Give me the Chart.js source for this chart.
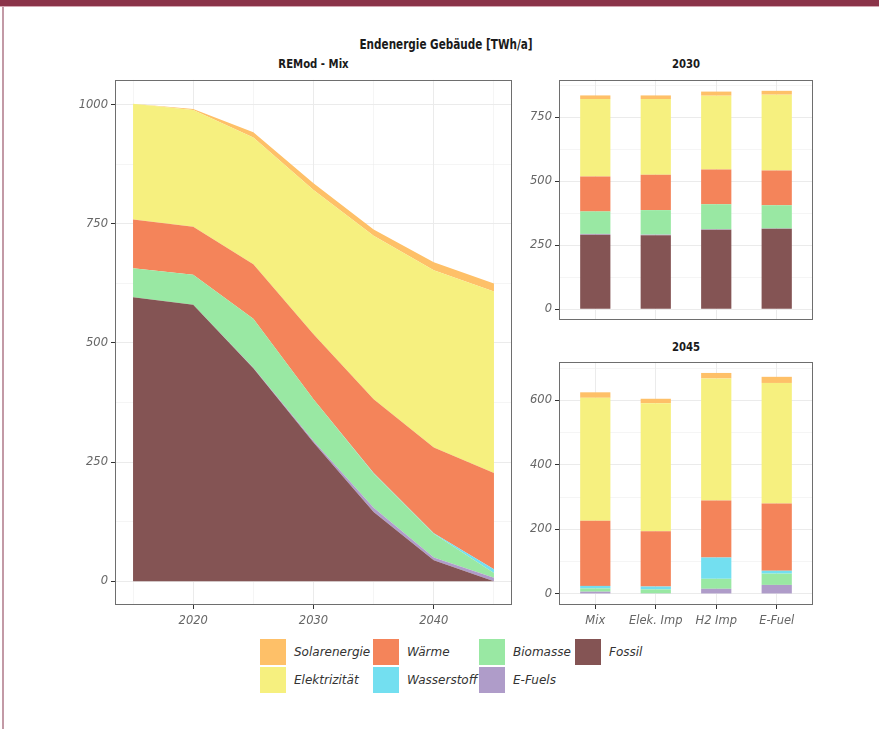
<!DOCTYPE html>
<html lang="de">
<head>
<meta charset="UTF-8">
<title>Endenergie Gebäude [TWh/a]</title>
<script src="https://cdn.jsdelivr.net/npm/chart.js"></script>
<style>
  body { margin: 0; width: 879px; height: 729px; background: #fff; position: relative; overflow: hidden; }
  .balken-oben { position: absolute; left: 0; top: 0; width: 879px; height: 6px; background: #8b3449; border-bottom: 1px solid #d4a7b2; }
  .linie-links { position: absolute; left: 2px; top: 7px; width: 2px; height: 722px; background: #c39aa6; }
  .titel, .sub { position: absolute; font-family: "DejaVu Sans Condensed", "Liberation Sans Narrow", "Roboto Condensed", Roboto, sans-serif; font-weight: bold; color: #1a1a1a; text-align: center; white-space: nowrap; transform-origin: 50% 50%; }
  .titel { left: 246px; width: 400px; top: 36px; font-size: 14px; line-height: 16px; transform: scaleX(0.83); }
  .sub { font-size: 12.5px; line-height: 15px; transform: scaleX(0.9); }
  canvas { position: absolute; }
  .legende { position: absolute; font-family: "DejaVu Sans", sans-serif; font-style: italic; font-size: 12px; color: #333; }
  .eintrag { position: absolute; height: 26px; line-height: 26px; white-space: nowrap; }
  .eintrag span.feld { position: absolute; left: 0; top: 0; width: 26px; height: 26px; }
  .eintrag span.text { position: absolute; left: 34px; top: 0; }
</style>
</head>
<body>
<div class="balken-oben"></div>
<div class="linie-links"></div>

<div class="titel">Endenergie Gebäude [TWh/a]</div>
<div class="sub" style="left:115px; width:397px; top:56px;">REMod - Mix</div>
<div class="sub" style="left:559px; width:254px; top:56px;">2030</div>
<div class="sub" style="left:559px; width:254px; top:339px;">2045</div>

<canvas id="chartVerlauf" width="460" height="565" style="left:60px; top:70px;"></canvas>
<canvas id="chart2030" width="300" height="260" style="left:520px; top:70px;"></canvas>
<canvas id="chart2045" width="300" height="283" style="left:520px; top:352px;"></canvas>

<div class="legende" id="legende"></div>

<script>
// Jahre im Verlauf (REMod - Mix)
const jahre = [2015, 2020, 2025, 2030, 2035, 2040, 2045];
const fossil = [596, 580, 447, 291, 145, 44, 0];
const eFuels = [0, 0, 1, 3, 9, 5.5, 7];
const biomasse = [61, 63, 103, 88, 72, 50, 10];
const wasserstoff = [0, 0, 0, 0, 1, 1, 8];
const waerme = [102, 101, 114, 136, 155, 180, 202];
const elektrizitaet = [243, 245, 266, 303, 343, 372, 381];
const solarenergie = [0, 2, 11, 14, 13, 17, 17];

// Varianten für die Balken
const varianten = ['Mix', 'Elek. Imp', 'H2 Imp', 'E-Fuel'];

// 2030
const fossil2030 = [291, 289, 310, 314];
const eFuels2030 = [3, 2, 2, 1];
const biomasse2030 = [88, 96, 98, 91];
const wasserstoff2030 = [0, 0, 0, 0];
const waerme2030 = [136, 138, 136, 136];
const elektrizitaet2030 = [303, 296, 288, 296];
const solarenergie2030 = [14, 14, 16, 15];

// 2045
const fossil2045 = [0, 0, 0, 0];
const eFuels2045 = [7, 2, 16, 28];
const biomasse2045 = [10, 12, 31, 35];
const wasserstoff2045 = [8, 9, 66, 9];
const waerme2045 = [202, 171, 177, 208];
const elektrizitaet2045 = [381, 397, 378, 374];
const solarenergie2045 = [17, 14, 17, 19];

// Energieträger von unten nach oben gestapelt
const traeger = ['Fossil', 'E-Fuels', 'Biomasse', 'Wasserstoff', 'Wärme', 'Elektrizität', 'Solarenergie'];
const farben = {
  'Solarenergie': '#fec068',
  'Elektrizität': '#f6f07f',
  'Wärme': '#f4845a',
  'Wasserstoff': '#73dff0',
  'Biomasse': '#99e8a3',
  'E-Fuels': '#af9cc9',
  'Fossil': '#845454'
};

const verlauf = [fossil, eFuels, biomasse, wasserstoff, waerme, elektrizitaet, solarenergie];
const werte2030 = [fossil2030, eFuels2030, biomasse2030, wasserstoff2030, waerme2030, elektrizitaet2030, solarenergie2030];
const werte2045 = [fossil2045, eFuels2045, biomasse2045, wasserstoff2045, waerme2045, elektrizitaet2045, solarenergie2045];

const tickFont = { family: 'DejaVu Sans', style: 'italic', size: 11.5 };
const tickFarbe = '#666';
const gitter = '#ebebeb';

// Rahmen um die Zeichenfläche (wie theme_bw)
const rahmen = {
  id: 'rahmen',
  afterDraw(chart) {
    const { ctx, chartArea: a } = chart;
    ctx.save();
    ctx.strokeStyle = '#6e6e6e';
    ctx.lineWidth = 1;
    const l = Math.round(a.left) + 0.5, t = Math.round(a.top) + 0.5;
    ctx.strokeRect(l, t, Math.round(a.right) - Math.round(a.left) - 1, Math.round(a.bottom) - Math.round(a.top) - 1);
    ctx.restore();
  }
};

// Summen für die Achsengrenzen (5 % Rand wie ggplot)
function grenzen(reihen) {
  const n = reihen[0].length;
  let max = 0;
  for (let i = 0; i < n; i++) {
    let s = 0;
    reihen.forEach(r => s += r[i]);
    max = Math.max(max, s);
  }
  return { min: -max * 0.05, max: max * 1.05 };
}

function yAchse(reihen, schritt, haupt, breite) {
  const g = grenzen(reihen);
  return {
    stacked: true,
    min: g.min,
    max: g.max,
    afterBuildTicks: axis => {
      const t = [];
      for (let v = 0; v <= g.max; v += schritt) t.push({ value: v });
      axis.ticks = t;
    },
    afterFit: scale => { scale.width = breite; },
    border: { display: false },
    grid: {
      color: gitter,
      lineWidth: c => (c.tick && c.tick.value % haupt === 0) ? 1 : 0.5,
      tickColor: c => (c.tick && c.tick.value % haupt === 0) ? '#333' : 'rgba(0,0,0,0)',
      tickLength: 4
    },
    ticks: {
      font: tickFont,
      color: tickFarbe,
      padding: 3,
      callback: v => (v % haupt === 0 ? v : '')
    }
  };
}

// Verlauf als gestapelte Fläche
new Chart(document.getElementById('chartVerlauf'), {
  type: 'line',
  data: {
    datasets: traeger.map((name, k) => ({
      label: name,
      data: jahre.map((j, i) => ({ x: j, y: verlauf[k][i] })),
      backgroundColor: farben[name],
      borderWidth: 0,
      pointRadius: 0,
      fill: k === 0 ? 'origin' : '-1'
    }))
  },
  options: {
    responsive: false,
    animation: false,
    layout: { padding: { top: 8, right: 8, bottom: 0, left: 0 } },
    plugins: { legend: { display: false }, tooltip: { enabled: false } },
    scales: {
      x: {
        type: 'linear',
        min: jahre[0] - 1.5,
        max: jahre[jahre.length - 1] + 1.5,
        afterBuildTicks: axis => { axis.ticks = jahre.map(j => ({ value: j })); },
        afterFit: scale => { scale.height = 30; },
        border: { display: false },
        grid: {
          color: gitter,
          lineWidth: c => (c.tick && c.tick.value % 10 === 0) ? 1 : 0.5,
          tickColor: c => (c.tick && c.tick.value % 10 === 0) ? '#333' : 'rgba(0,0,0,0)',
          tickLength: 4
        },
        ticks: {
          font: tickFont,
          color: tickFarbe,
          padding: 5,
          maxRotation: 0,
          callback: v => (v % 10 === 0 ? String(v) : '')
        }
      },
      y: yAchse(verlauf, 125, 250, 55)
    }
  },
  plugins: [rahmen]
});

function balken(id, reihen, schritt, haupt, oben, xHoehe, mitLabels) {
  new Chart(document.getElementById(id), {
    type: 'bar',
    data: {
      datasets: traeger.map((name, k) => ({
        label: name,
        data: varianten.map((v, i) => ({ x: i, y: reihen[k][i] })),
        backgroundColor: farben[name],
        borderWidth: 0,
        categoryPercentage: 1,
        barPercentage: 0.5
      }))
    },
    options: {
      responsive: false,
      animation: false,
      layout: { padding: { top: oben, right: 7, bottom: 0, left: 0 } },
      plugins: { legend: { display: false }, tooltip: { enabled: false } },
      scales: {
        x: {
          type: 'linear',
          stacked: true,
          offset: false,
          min: -0.6,
          max: varianten.length - 0.4,
          afterBuildTicks: axis => { axis.ticks = varianten.map((v, i) => ({ value: i })); },
          afterFit: scale => { scale.height = xHoehe; },
          border: { display: false },
          grid: {
            offset: false,
            color: gitter,
            lineWidth: 1,
            tickColor: '#333',
            tickLength: 4,
            drawTicks: mitLabels
          },
          ticks: {
            display: mitLabels,
            font: tickFont,
            color: tickFarbe,
            padding: 5,
            maxRotation: 0,
            autoSkip: false,
            callback: v => varianten[v]
          }
        },
        y: yAchse(reihen, schritt, haupt, 39)
      }
    },
    plugins: [rahmen]
  });
}

balken('chart2030', werte2030, 125, 250, 7, 7, false);
balken('chart2045', werte2045, 100, 200, 9, 30, true);

// Legende (spaltenweise wie im Original)
const legendeReihenfolge = [
  ['Solarenergie', 260, 639], ['Elektrizität', 260, 667],
  ['Wärme', 373, 639], ['Wasserstoff', 373, 667],
  ['Biomasse', 479, 639], ['E-Fuels', 479, 667],
  ['Fossil', 575, 639]
];
const legende = document.getElementById('legende');
legendeReihenfolge.forEach(([name, x, y]) => {
  const e = document.createElement('div');
  e.className = 'eintrag';
  e.style.left = x + 'px';
  e.style.top = y + 'px';
  e.innerHTML = '<span class="feld" style="background:' + farben[name] + '"></span><span class="text">' + name + '</span>';
  legende.appendChild(e);
});
</script>
</body>
</html>
